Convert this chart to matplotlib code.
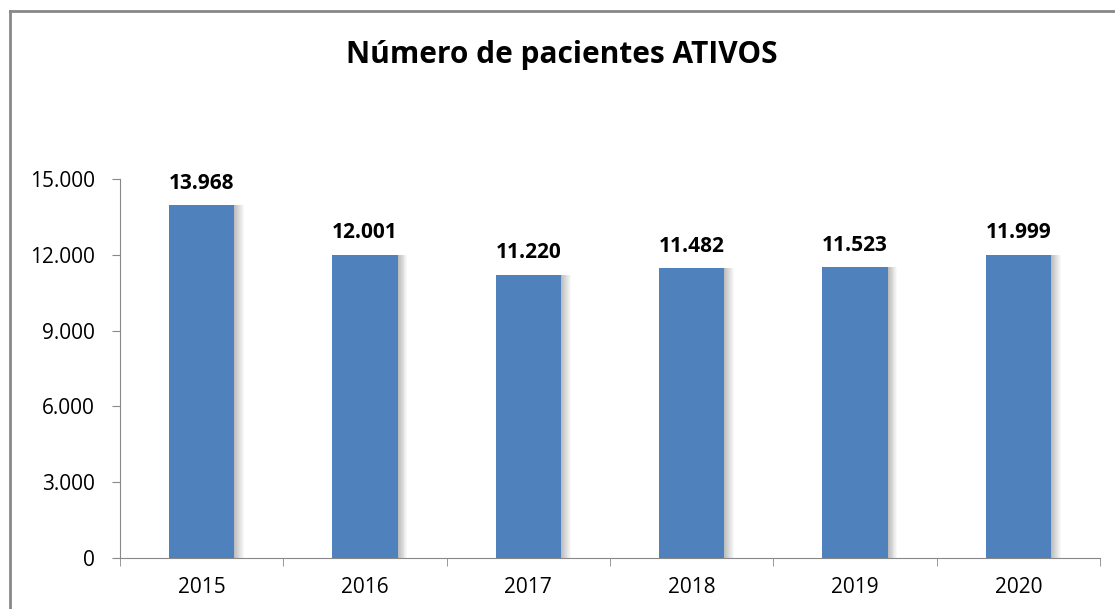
import matplotlib.pyplot as plt
from matplotlib.lines import Line2D
import numpy as np

# data
years = ['2015', '2016', '2017', '2018', '2019', '2020']
pacientes = [13968, 12001, 11220, 11482, 11523, 11999]
yticks = [0, 3000, 6000, 9000, 12000, 15000]
title = 'Número de pacientes ATIVOS'

plt.rcParams['font.family'] = ['Open Sans', 'DejaVu Sans']

def fmt(v):
    # portuguese thousands separator
    return f'{v:,}'.replace(',', '.')

fig = plt.figure(figsize=(11.15, 6.09), dpi=100)
ax = fig.add_axes([0.1076, 0.0837, 0.8789, 0.6223])

x = np.arange(len(years))
bar_w = 0.4

# soft shadow on the right side of each bar
for k in range(10):
    ax.bar(x + bar_w / 2 + k * 0.006, pacientes, width=0.006, align='edge',
           color='#444444', alpha=0.35 * (1 - k / 10), linewidth=0, zorder=1)
ax.bar(x, pacientes, width=bar_w, color='#4f81bd', linewidth=0, zorder=2)

for xi, v in zip(x, pacientes):
    ax.text(xi, v + 450, fmt(v), ha='center', va='bottom',
            fontsize=15, fontweight='bold', color='black')

ax.set_xlim(-0.5, len(years) - 0.5)
ax.set_ylim(0, 15000)
ax.set_yticks(yticks)
ax.set_yticklabels([fmt(t) for t in yticks])
ax.set_xticks(x)
ax.set_xticklabels(years)
ax.set_xticks(np.arange(len(years) + 1) - 0.5, minor=True)
ax.tick_params(axis='x', which='major', length=0, pad=14, labelsize=15)
ax.tick_params(axis='x', which='minor', length=6, color='#888888')
ax.tick_params(axis='y', length=6, color='#888888', pad=12, labelsize=15)

for side in ['top', 'right']:
    ax.spines[side].set_visible(False)
for side in ['left', 'bottom']:
    ax.spines[side].set_color('#888888')

fig.text(0.5035, 0.91, title, ha='center', va='center',
         fontsize=21.5, fontweight='bold')

# chart frame (left and top edges visible)
fig.add_artist(Line2D([9.5 / 1115, 9.5 / 1115], [0, 1 - 10.5 / 609],
                      color='#888888', linewidth=2))
fig.add_artist(Line2D([9.5 / 1115, 1], [1 - 10.5 / 609, 1 - 10.5 / 609],
                      color='#888888', linewidth=2))

fig.savefig('out.png', dpi=100)
